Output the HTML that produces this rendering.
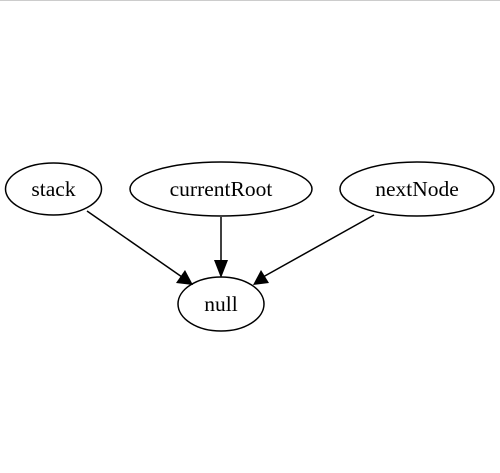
<!DOCTYPE html>
<html><head><style>body{margin:0;background:#fff}svg{display:block}</style></head>
<body>
<svg width="500" height="473" viewBox="0 0 500 473" xmlns="http://www.w3.org/2000/svg">
<line x1="0" y1="0.5" x2="500" y2="0.5" stroke="#ccc"/>
<g fill="none" stroke="#000" stroke-width="1.5">
<ellipse cx="53.5" cy="189" rx="48" ry="26"/>
<ellipse cx="221" cy="189" rx="91" ry="27"/>
<ellipse cx="417" cy="189" rx="77" ry="27"/>
<ellipse cx="221" cy="304" rx="43" ry="27"/>
<line x1="87" y1="211" x2="182" y2="277"/>
<line x1="221" y1="217" x2="221" y2="265"/>
<line x1="374" y1="215" x2="263" y2="277"/>
</g>
<g fill="#000">
<polygon points="193,285 176,283 185,270"/>
<polygon points="221,278 214,260 228,260"/>
<polygon points="253,285 261,270 269,283"/>
</g>
<g font-family="Liberation Serif, serif" font-size="21.5" text-anchor="middle">
<text x="53.5" y="196">stack</text>
<text x="221" y="196">currentRoot</text>
<text x="417" y="196">nextNode</text>
<text x="221" y="311">null</text>
</g>
</svg>
</body></html>
